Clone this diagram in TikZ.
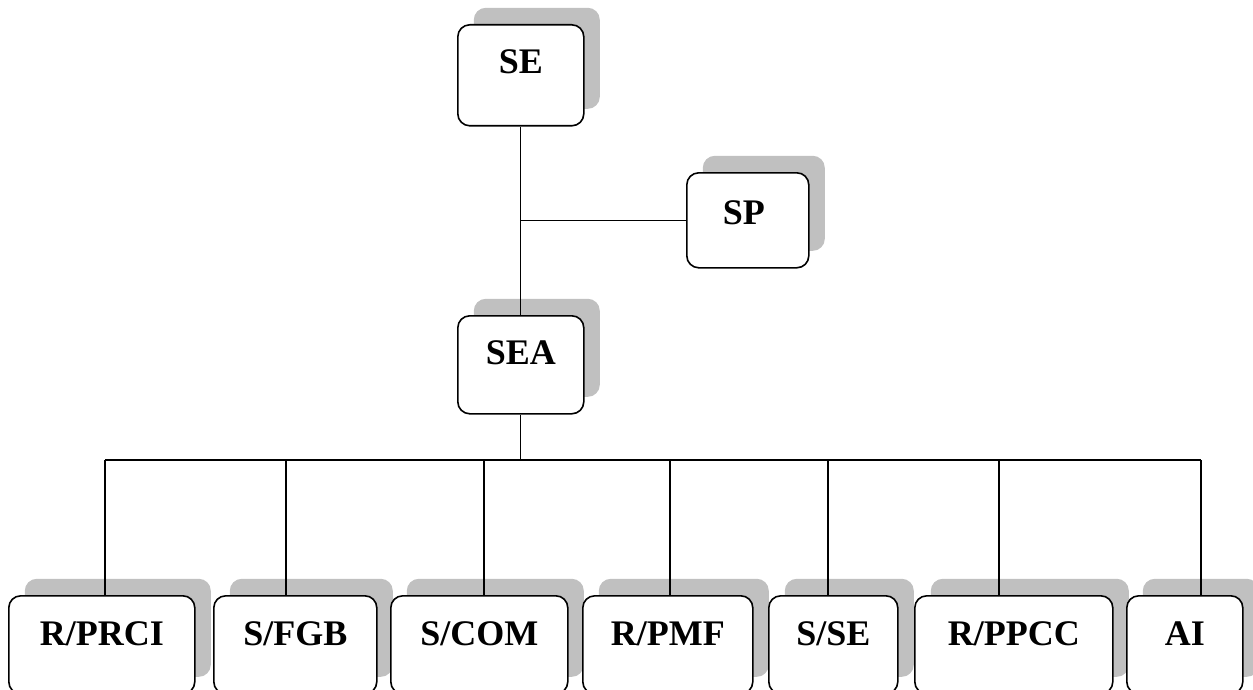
\documentclass[tikz,border=0pt]{standalone}
\usepackage{fontspec}
\setmainfont{Liberation Serif}
\usetikzlibrary{shadows}
\definecolor{shadowgray}{RGB}{192,192,192}
\tikzset{
  box/.style={draw=black, line width=1.6pt, rounded corners=12pt, fill=white, inner sep=0pt,
    anchor=north west,
    general shadow={fill=shadowgray, shadow xshift=16pt, shadow yshift=17pt}},
  lbl/.style={font=\bfseries\fontsize{36}{40}\selectfont, anchor=base, inner sep=0pt},
  conn/.style={line width=1.2pt}
}
\begin{document}
\begin{tikzpicture}[x=1pt,y=-1pt]
\useasboundingbox (0,0) rectangle (1253,690);
% top boxes
\node[box, minimum width=126pt, minimum height=101pt] (se) at (457,24) {};
\node[lbl] (sel) at ([yshift=-50pt]se.north) {SE};
\node[box, minimum width=122pt, minimum height=95pt] (sp) at (686,172) {};
\node[lbl] (spl) at ([yshift=-52pt,xshift=-4pt]sp.north) {SP};
\node[box, minimum width=126pt, minimum height=98pt] (sea) at (457,315) {};
\node[lbl] (seal) at ([yshift=-49pt]sea.north) {SEA};
% bottom boxes
\node[box, minimum width=186pt, minimum height=98pt] (b1) at (8,595) {};
\node[box, minimum width=163pt, minimum height=98pt] (b2) at (213,595) {};
\node[box, minimum width=177pt, minimum height=98pt] (b3) at (390,595) {};
\node[box, minimum width=170pt, minimum height=98pt] (b4) at (582,595) {};
\node[box, minimum width=129pt, minimum height=98pt] (b5) at (768,595) {};
\node[box, minimum width=198pt, minimum height=98pt] (b6) at (914,595) {};
\node[box, minimum width=116pt, minimum height=98pt] (b7) at (1126,595) {};
\node[lbl] (l1) at ([yshift=-50pt]b1.north) {R/PRCI};
\node[lbl] (l2) at ([yshift=-50pt]b2.north) {S/FGB};
\node[lbl] (l3) at ([yshift=-50pt]b3.north) {S/COM};
\node[lbl] (l4) at ([yshift=-50pt]b4.north) {R/PMF};
\node[lbl] (l5) at ([yshift=-50pt]b5.north) {S/SE};
\node[lbl] (l6) at ([yshift=-50pt]b6.north) {R/PPCC};
\node[lbl] (l7) at ([yshift=-50pt]b7.north) {AI};
% connectors
\draw[conn] (se.south) -- (sea.north);
\draw[conn] (sp.west) -- (sp.west -| se.south);
\coordinate (d1) at (105,460);
\coordinate (d2) at (286,460);
\coordinate (d3) at (484,460);
\coordinate (d4) at (670,460);
\coordinate (d5) at (828,460);
\coordinate (d6) at (999,460);
\coordinate (d7) at (1201,460);
\draw[conn] (sea.south) -- (sea.south |- d1);
\draw[conn] (d1) -- (d7);
\draw[conn] (d1) -- (d1 |- b1.north);
\draw[conn] (d2) -- (d2 |- b2.north);
\draw[conn] (d3) -- (d3 |- b3.north);
\draw[conn] (d4) -- (d4 |- b4.north);
\draw[conn] (d5) -- (d5 |- b5.north);
\draw[conn] (d6) -- (d6 |- b6.north);
\draw[conn] (d7) -- (d7 |- b7.north);
\end{tikzpicture}
\end{document}
